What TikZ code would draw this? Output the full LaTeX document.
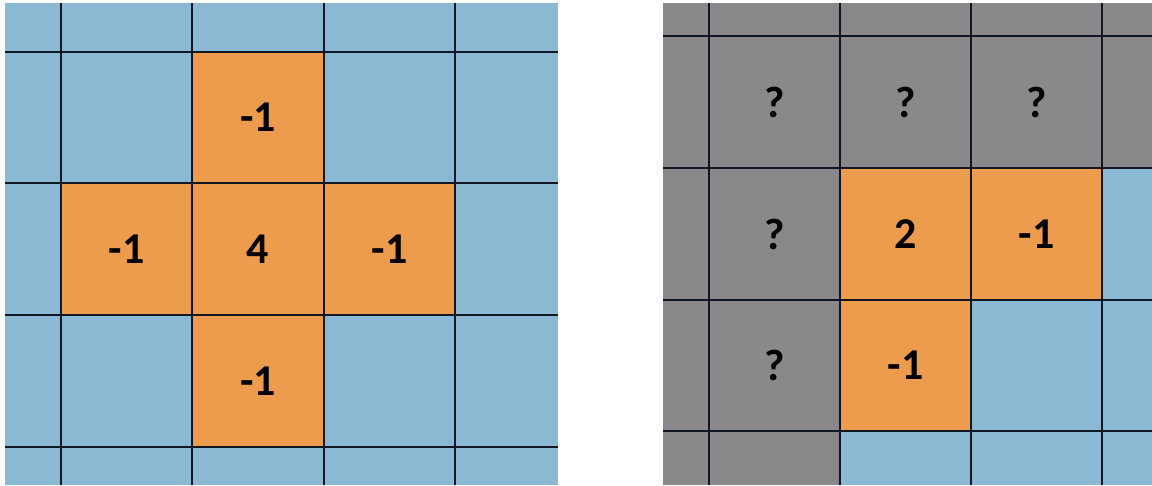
\documentclass[tikz,border=0pt]{standalone}
\usepackage{fontspec}
\setmainfont{Carlito}
\definecolor{cellblue}{RGB}{139,184,211}
\definecolor{cellorange}{RGB}{237,155,76}
\definecolor{cellgray}{RGB}{139,136,139}
\definecolor{gridline}{RGB}{16,22,36}
\tikzset{
  cell/.style={draw=none, minimum width=131pt, minimum height=132pt, inner sep=0pt, anchor=center,
    font=\fontsize{44}{52}\selectfont\bfseries, text=black},
  org/.style={cell, fill=cellorange},
  gry/.style={cell, fill=cellgray},
  gline/.style={draw=gridline, line width=2.8pt}
}
\begin{document}
\begin{tikzpicture}[x=1pt,y=-1pt]
\useasboundingbox (0,0) rectangle (1152,486);
% left grid background
\fill[cellblue] (5,3) rectangle (558,485);
\node[org] (l1) at (258,117.5) {-1};
\node[org] (l2) at (126.5,249) {-1};
\node[org] (l3) at (258,249) {4};
\node[org] (l4) at (389.5,249) {-1};
\node[org] (l5) at (258,381) {-1};
\foreach \x in {61,192,324,455} \draw[gline] (\x,3) -- (\x,485);
\foreach \y in {52,183,315,447} \draw[gline] (5,\y) -- (558,\y);
% right grid background
\fill[cellgray] (663,3) rectangle (1152,485);
\fill[cellblue] (840,300) rectangle (1152,485);
\fill[cellblue] (1102,168) rectangle (1152,300);
\node[gry] (r1) at (774.5,102) {?};
\node[gry] (r2) at (905.5,102) {?};
\node[gry] (r3) at (1036.5,102) {?};
\node[gry] (r4) at (774.5,234) {\raisebox{-2pt}{?}};
\node[org] (r5) at (905.5,234) {\raisebox{-2pt}{2}};
\node[org] (r6) at (1036.5,234) {\raisebox{-2pt}{-1}};
\node[gry] (r7) at (774.5,365.5) {\raisebox{-1pt}{?}};
\node[org] (r8) at (905.5,365.5) {\raisebox{-4pt}{-1}};
\foreach \x in {709,840,971,1102} \draw[gline] (\x,3) -- (\x,485);
\foreach \y in {36,168,300,431} \draw[gline] (663,\y) -- (1152,\y);
\end{tikzpicture}
\end{document}
